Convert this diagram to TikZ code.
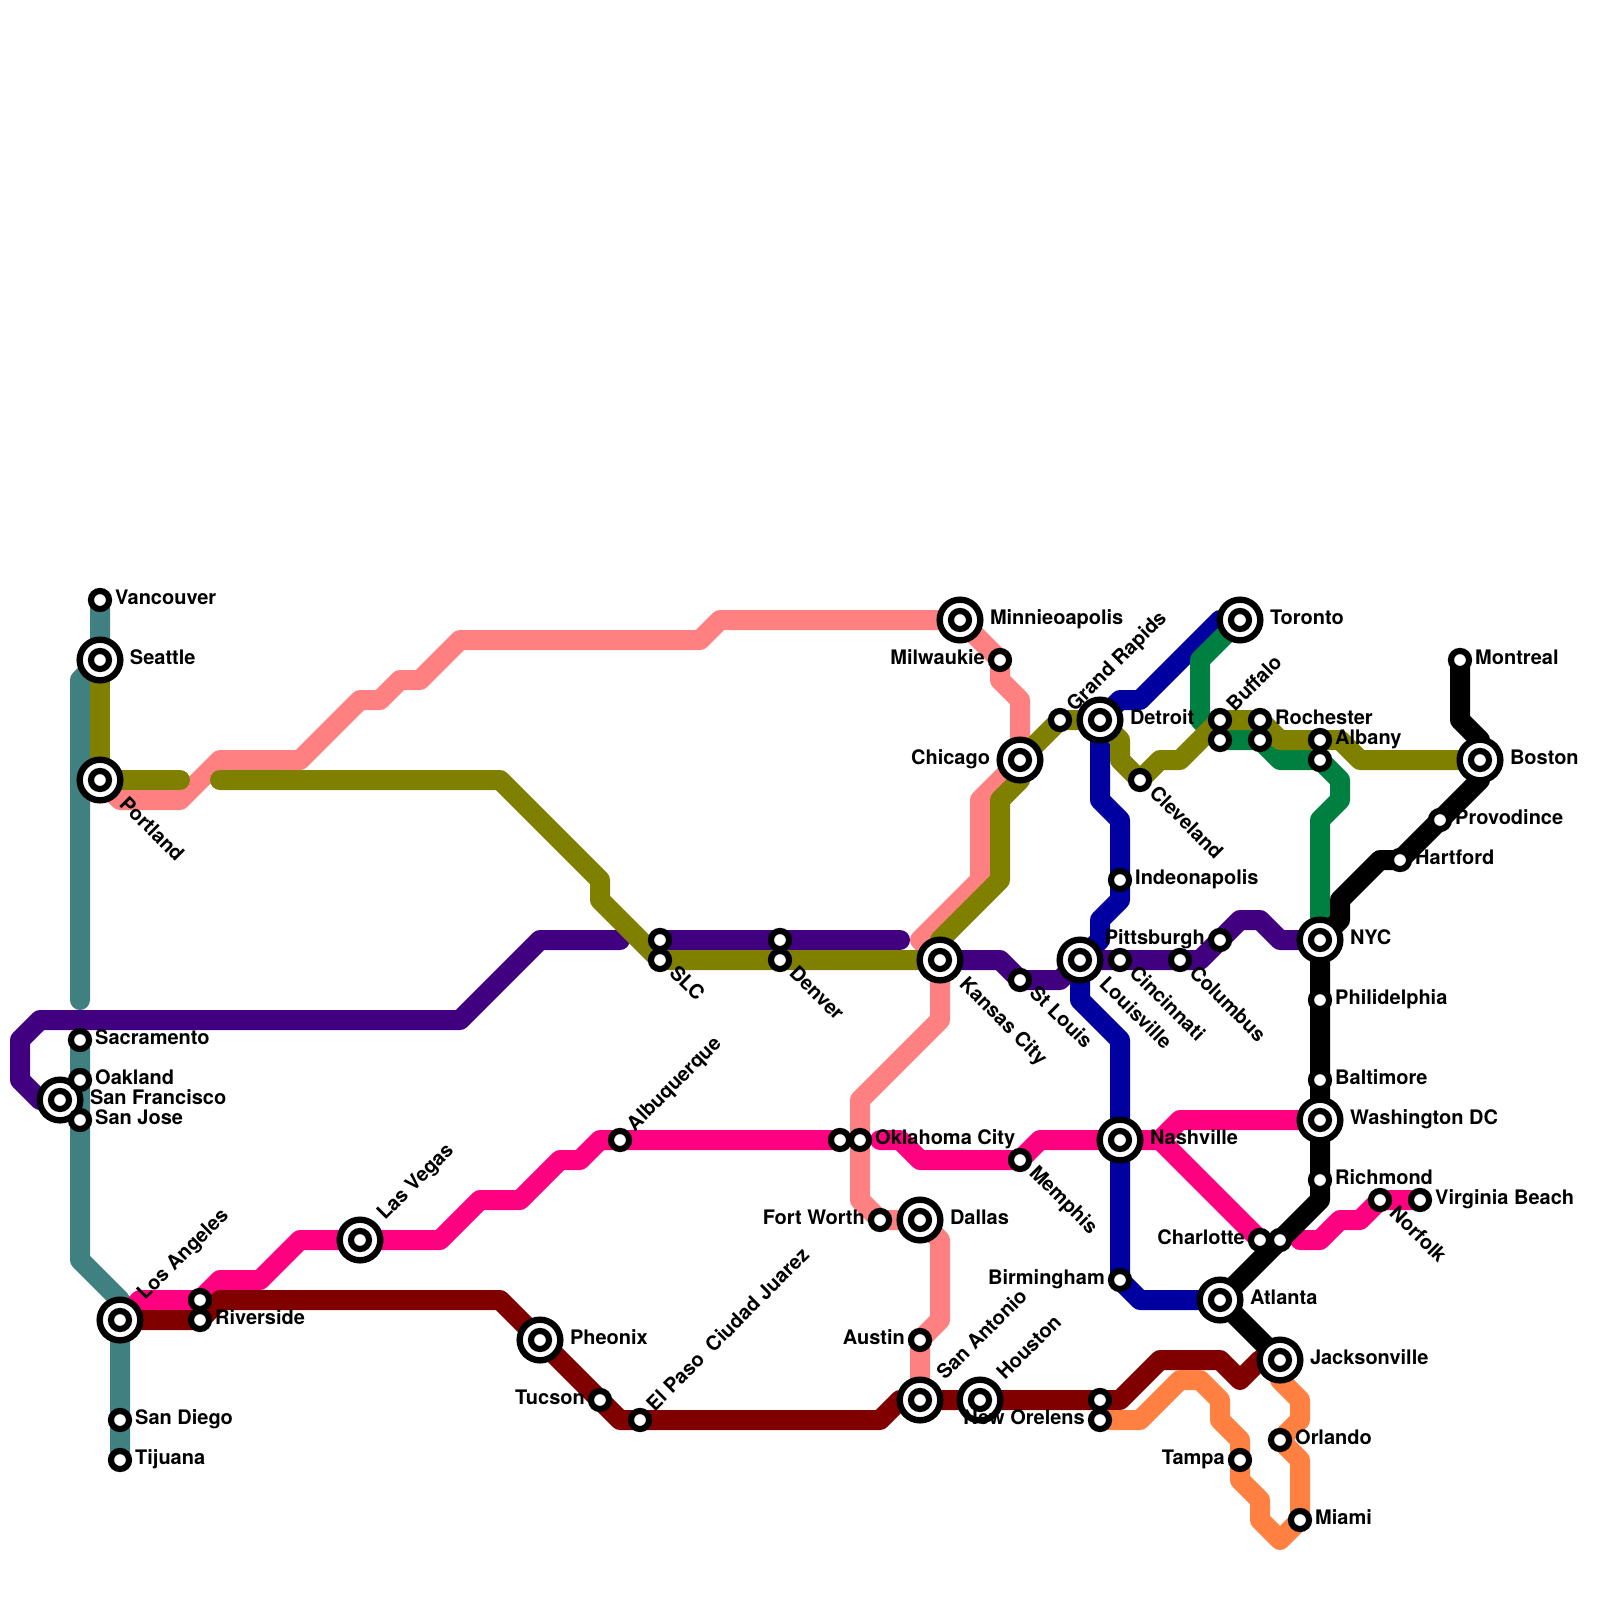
\documentclass[tikz,border=0pt]{standalone}
\usepackage{fontspec}
\setmainfont{TeX Gyre Heros}
\usepackage{tikz}

\definecolor{teal1}{HTML}{408080}
\definecolor{olive1}{HTML}{808000}
\definecolor{salmon1}{HTML}{FF8080}
\definecolor{purple1}{HTML}{400080}
\definecolor{pink1}{HTML}{FF0080}
\definecolor{maroon1}{HTML}{800000}
\definecolor{blue1}{HTML}{0000A0}
\definecolor{green1}{HTML}{008040}
\definecolor{orange1}{HTML}{FF8040}

\tikzset{
  ln/.style={line width=2.5mm, line join=round, line cap=round},
  stn/.style={circle, draw=black, fill=white, line width=0.77mm, inner sep=0pt, outer sep=0pt, minimum size=2.26mm},
  hub/.style={circle, draw=black, fill=white, line width=0.8mm, inner sep=0pt, outer sep=0pt, minimum size=5.08mm},
  lbl/.style={inner sep=0pt, outer sep=0pt, font=\bfseries\fontsize{7.11pt}{8pt}\selectfont},
  lblr/.style={lbl, anchor=base west, xshift=1.9mm, yshift=-0.6mm},
  lbll/.style={lbl, anchor=base east, xshift=-1.9mm, yshift=-0.6mm},
  lblse/.style={lbl, anchor=base west, xshift=1.05mm, yshift=-1.75mm, rotate=-45},
  lblne/.style={lbl, anchor=base west, xshift=1.85mm, yshift=1mm, rotate=45},
  hubr/.style={lbl, anchor=base west, xshift=3.75mm, yshift=-0.6mm},
  hubl/.style={lbl, anchor=base east, xshift=-3.75mm, yshift=-0.6mm},
  hubse/.style={lbl, anchor=base west, xshift=2.3mm, yshift=-3.15mm, rotate=-45},
  hubne/.style={lbl, anchor=base west, xshift=3.15mm, yshift=2.4mm, rotate=45},
}

\newcommand{\stnlist}{van/5/30, sea/5/33, por/5/39, sac/4/52, oak/4/54, sfo/3/55, sjo/4/56,
  lax/6/66, rivb/10/65, riv/10/66, sdg/6/71, tij/6/73, las/18/62, phx/27/67, tuc/30/70, elp/32/71,
  abq/31/57, slca/33/47, slc/33/48, dena/39/47, den/39/48, okca/42/57, okc/43/57,
  msp/48/31, mke/50/33, chi/51/38, mkc/47/48, ftw/44/61, dal/46/61, aus/46/67, sat/46/70, hou/49/70,
  stl/51/49, mem/51/58, grr/53/36, det/55/36, cle/57/39, ind/56/44, sdf/54/48, cvg/56/48, cmh/59/48,
  pit/61/47, bna/56/57, bhm/56/64, msy/55/71, msya/55/70, atl/61/65, clt/63/62, clta/64/62,
  yyz/62/31, buf/61/36, bufb/61/37, roc/63/36, rocb/63/37, alb/66/37, albb/66/38,
  yul/73/33, bos/74/38, pvd/72/41, hfd/70/43, nyc/66/47, phl/66/50, bwi/66/54, dca/66/56,
  ric/66/59, orf/69/60, vab/71/60, jax/64/68, mco/64/72, tpa/62/73, mia/65/76}

\begin{document}
\begin{tikzpicture}[x=0.25cm, y=-0.25cm]
\useasboundingbox (0,0) rectangle (80,80);
\foreach \n/\p/\q in \stnlist {
  \coordinate (\n) at (\p,\q);
}
% west coast
\draw[ln, teal1] (van) -- (sea) -- (4,34) -- (4,50);
\draw[ln, teal1] (sac) -- (oak) -- (sjo) -- (4,63) -- (6,65) -- (lax) -- (sdg) -- (tij);
% pink
\draw[ln, pink1] (lax) -- (7,65) -- (rivb) -- (11,64) -- (13,64) -- (15,62) -- (las) -- (22,62) -- (24,60) -- (26,60) -- (28,58) -- (29,58) -- (30,57) -- (abq) -- (okca);
\draw[ln, pink1] (44,57) -- (45,57) -- (46,58) -- (50,58) -- (mem) -- (52,57) -- (bna) -- (58,57) -- (clt);
\draw[ln, pink1] (58,57) -- (59,56) -- (dca);
\draw[ln, pink1] (65,62) -- (66,62) -- (67,61) -- (68,61) -- (orf) -- (vab);
% salmon
\draw[ln, salmon1] (por) -- (6,40) -- (9,40) -- (11,38) -- (15,38) -- (18,35) -- (19,35) -- (20,34) -- (21,34) -- (23,32) -- (35,32) -- (36,31) -- (msp) -- (mke) -- (50,34) -- (51,35) -- (chi) -- (49,40) -- (49,44) -- (46,47) -- (mkc) -- (47,51) -- (43,55) -- (43,60) -- (ftw) -- (dal) -- (47,62) -- (47,66) -- (aus) -- (sat);
% maroon
\draw[ln, maroon1] (lax) -- (riv) -- (11,65) -- (25,65) -- (phx) -- (31,71) -- (elp) -- (44,71) -- (45,70) -- (sat) -- (hou) -- (msya) -- (56,70) -- (58,68) -- (61,68) -- (62,69) -- (63,68) -- (jax);
% blue
\draw[ln, blue1] (yyz) -- (61,31) -- (57,35) -- (56,35) -- (det) -- (55,40) -- (56,41) -- (ind) -- (56,45) -- (55,46) -- (55,47) -- (sdf) -- (54,50) -- (56,52) -- (bna) -- (bhm) -- (57,65) -- (atl);
% purple
\draw[ln, purple1] (sfo) -- (2,55) -- (1,54) -- (1,52) -- (2,51) -- (23,51) -- (27,47) -- (31,47);
\draw[ln, purple1] (slca) -- (dena) -- (45,47);
\draw[ln, purple1] (mkc) -- (50,48) -- (stl) -- (53,49) -- (sdf) -- (cvg) -- (cmh) -- (60,48) -- (pit) -- (62,46) -- (63,46) -- (64,47) -- (nyc);
% green
\draw[ln, green1] (yyz) -- (60,33) -- (60,36) -- (bufb) -- (rocb) -- (64,38) -- (albb) -- (67,39) -- (67,40) -- (66,41) -- (nyc);
% olive
\draw[ln, olive1] (sea) -- (por) -- (9,39);
\draw[ln, olive1] (11,39) -- (25,39) -- (30,44) -- (30,45) -- (slc) -- (den) -- (mkc) -- (47,47) -- (50,44) -- (50,40) -- (51,39) -- (chi) -- (grr) -- (det) -- (56,37) -- (56,38) -- (cle) -- (58,38) -- (59,38) -- (buf) -- (roc) -- (64,37) -- (alb) -- (67,37) -- (68,38) -- (bos);
% orange
\draw[ln, orange1] (msy) -- (57,71) -- (59,69) -- (60,69) -- (61,70) -- (61,71) -- (62,72) -- (tpa) -- (62,74) -- (63,75) -- (63,76) -- (64,77) -- (mia) -- (65,73) -- (mco) -- (65,71) -- (65,70) -- (64,69) -- (jax);
% black
\draw[ln, black] (yul) -- (73,36) -- (74,37) -- (bos) -- (74,39) -- (pvd) -- (hfd) -- (69,43) -- (67,45) -- (67,46) -- (nyc) -- (phl) -- (bwi) -- (dca) -- (ric) -- (66,60) -- (clta) -- (atl) -- (jax);
% stations
\foreach \n in {sea, por, sfo, lax, las, phx, msp, chi, mkc, dal, sat, hou, det, sdf, bna, atl, yyz, bos, nyc, dca, jax} {
  \node[hub] (\n o) at (\n) {};
}
\foreach \n/\p/\q in \stnlist {
  \node[stn] (\n m) at (\n) {};
}
% labels
\foreach \n/\s/\t in {van/lblr/Vancouver, sea/hubr/Seattle, por/hubse/Portland, sac/lblr/Sacramento,
  oak/lblr/Oakland, sfo/hubr/San Francisco, sjo/lblr/San Jose, lax/hubne/Los Angeles, riv/lblr/Riverside,
  sdg/lblr/San Diego, tij/lblr/Tijuana, las/hubne/Las Vegas, phx/hubr/Pheonix, tuc/lbll/Tucson,
  elp/lblne/El Paso~~Ciudad Juarez, abq/lblne/Albuquerque, slc/lblse/SLC, den/lblse/Denver,
  okc/lblr/Oklahoma City, msp/hubr/Minnieoapolis, mke/lbll/Milwaukie, chi/hubl/Chicago, mkc/hubse/Kansas City,
  ftw/lbll/Fort Worth, dal/hubr/Dallas, aus/lbll/Austin, sat/hubne/San Antonio, hou/hubne/Houston,
  stl/lblse/St Louis, mem/lblse/Memphis, grr/lblne/Grand Rapids, det/hubr/Detroit, cle/lblse/Cleveland,
  ind/lblr/Indeonapolis, sdf/hubse/Louisville, cvg/lblse/Cincinnati, cmh/lblse/Columbus, pit/lbll/Pittsburgh,
  bna/hubr/Nashville, bhm/lbll/Birmingham, msy/lbll/New Orelens, atl/hubr/Atlanta, clt/lbll/Charlotte,
  yyz/hubr/Toronto, buf/lblne/Buffalo, roc/lblr/Rochester, alb/lblr/Albany, yul/lblr/Montreal, bos/hubr/Boston,
  pvd/lblr/Provodince, hfd/lblr/Hartford, nyc/hubr/NYC, phl/lblr/Philidelphia, bwi/lblr/Baltimore,
  dca/hubr/Washington DC, ric/lblr/Richmond, orf/lblse/Norfolk, vab/lblr/Virginia Beach, jax/hubr/Jacksonville,
  mco/lblr/Orlando, tpa/lbll/Tampa, mia/lblr/Miami} {
  \node[\s] (\n t) at (\n) {\t};
}
\end{tikzpicture}
\end{document}
